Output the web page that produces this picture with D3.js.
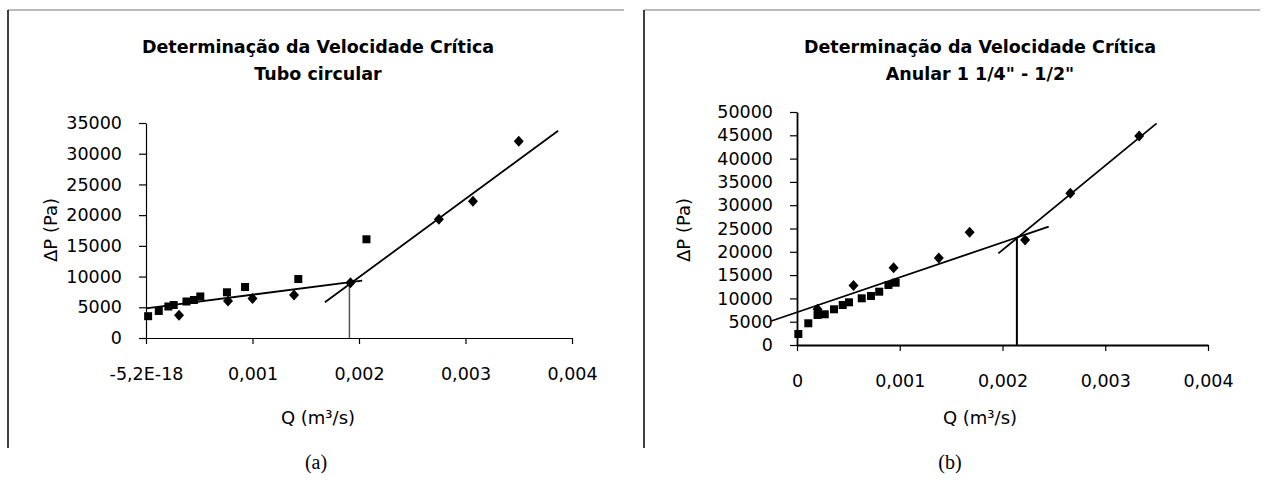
<!DOCTYPE html>
<meta charset="utf-8">
<script src="https://d3js.org/d3.v7.min.js"></script>
<head>
<style>
  body { margin: 0; background: #fff; }
  text { font-family: "DejaVu Sans", Arial, sans-serif; fill: #000; }
</style>
</head>
<body>
<div id="my_dataviz"></div>
<script>
// ---- data ----
var qTicks = [0, 0.001, 0.002, 0.003, 0.004];
var qLabelsA = ["-5,2E-18", "0,001", "0,002", "0,003", "0,004"];
var qLabelsB = ["0", "0,001", "0,002", "0,003", "0,004"];
var pTicksA = [0, 5000, 10000, 15000, 20000, 25000, 30000, 35000];
var pTicksB = [0, 5000, 10000, 15000, 20000, 25000, 30000, 35000, 40000, 45000, 50000];

// (a) tubo circular
var squaresA = [[0.00002, 3550], [0.00012, 4400], [0.00021, 5130], [0.00026, 5370], [0.00038, 5940],
                [0.00045, 6190], [0.00051, 6760], [0.00076, 7440], [0.00093, 8300], [0.00143, 9600],
                [0.00207, 16070]];
var diamondsA = [[0.00031, 3700], [0.00077, 6020], [0.00100, 6430], [0.00139, 7000], [0.00192, 9000],
                 [0.00275, 19320], [0.00307, 22250], [0.00350, 32020]];
var trendA1 = [[0, 4830], [0.00203, 9330]];
var trendA2 = [[0.00168, 5810], [0.00387, 33750]];
var criticalA = [0.00191, 9000];

// (b) anular 1 1/4" - 1/2"
var squaresB = [[0.000013, 2360], [0.00011, 4660], [0.0002, 6440], [0.00027, 6590], [0.00036, 7660],
                [0.000445, 8580], [0.000506, 9160], [0.00063, 10020], [0.00072, 10520], [0.0008, 11440],
                [0.00089, 12880], [0.00096, 13370]];
var diamondsB = [[0.0002, 7660], [0.00055, 12770], [0.00094, 16590], [0.00138, 18670], [0.00168, 24180],
                 [0.00222, 22530], [0.00266, 32550], [0.00333, 44850]];
var trendB1 = [[-0.00025, 5150], [0.00245, 25390]];
var trendB2 = [[0.00196, 19670], [0.0035, 47570]];
var criticalB = [0.00214, 23200];

var svg = d3.select("#my_dataviz")
  .append("svg")
    .attr("width", 1264)
    .attr("height", 484);

function drawChart(o) {
  var g = svg.append("g");

  // chart frame (only top and left edges show)
  g.append("line").attr("x1", o.frame[0]).attr("x2", o.frame[1]).attr("y1", 10).attr("y2", 10)
    .attr("stroke", "#777").attr("stroke-width", 1.2);
  g.append("line").attr("x1", o.frame[0]).attr("x2", o.frame[0]).attr("y1", 10).attr("y2", 448)
    .attr("stroke", "#000").attr("stroke-width", 1.5);

  var x = d3.scaleLinear().domain([0, 0.004]).range(o.xr);
  var y = d3.scaleLinear().domain([0, o.pMax]).range(o.yr);

  // title
  g.append("text").attr("x", o.titleX).attr("y", 53).attr("text-anchor", "middle")
    .style("font-size", "17.5px").style("font-weight", "bold").text("Determinação da Velocidade Crítica");
  g.append("text").attr("x", o.titleX).attr("y", 80).attr("text-anchor", "middle")
    .style("font-size", "17.5px").style("font-weight", "bold").text(o.subtitle);

  // X axis
  var xa = g.append("g")
    .attr("transform", "translate(0," + o.yr[0] + ")")
    .call(d3.axisBottom(x).tickValues(qTicks).tickSize(6).tickSizeOuter(0)
      .tickFormat(function (d, i) { return o.qLabels[i]; }));
  xa.selectAll("text").attr("y", o.xLabOff).attr("dy", "0.71em").style("font-size", "17.5px");
  xa.select(".domain").attr("stroke-width", o.xw);
  xa.selectAll(".tick line").attr("stroke-width", 1.2);

  // Y axis
  var ya = g.append("g")
    .attr("transform", "translate(" + o.xr[0] + ",0)")
    .call(d3.axisLeft(y).tickValues(o.pTicks).tickSize(7).tickSizeOuter(0).tickPadding(17)
      .tickFormat(d3.format("d")));
  ya.selectAll("text").style("font-size", "17.5px");
  ya.selectAll(".tick line").attr("stroke-width", 1.2);
  ya.select(".domain").attr("stroke-width", o.yw);

  // axis titles
  g.append("text").attr("x", o.titleX).attr("y", 424).attr("text-anchor", "middle")
    .style("font-size", "18px").text("Q (m³/s)");
  g.append("text").attr("transform", "translate(" + o.ylabX + ",230) rotate(-90)")
    .attr("text-anchor", "middle").style("font-size", "18px").text("ΔP (Pa)");

  // trend lines and critical flow
  var line = d3.line().x(function (d) { return x(d[0]); }).y(function (d) { return y(d[1]); });
  [o.t1, o.t2].forEach(function (t) {
    g.append("path").datum(t).attr("d", line).attr("fill", "none")
      .attr("stroke", "#000").attr("stroke-width", 1.8);
  });
  g.append("line").attr("x1", x(o.crit[0])).attr("x2", x(o.crit[0]))
    .attr("y1", y(0)).attr("y2", y(o.crit[1]))
    .attr("stroke", o.critColor).attr("stroke-width", o.critW);

  // markers
  g.append("g").selectAll("rect").data(o.squares).enter().append("rect")
    .attr("x", function (d) { return x(d[0]) - 4; })
    .attr("y", function (d) { return y(d[1]) - 4; })
    .attr("width", 8).attr("height", 8).attr("fill", "#000");
  g.append("g").selectAll("path.dia").data(o.diamonds).enter().append("path")
    .attr("transform", function (d) { return "translate(" + x(d[0]) + "," + y(d[1]) + ")"; })
    .attr("d", "M0,-5.5L5,0L0,5.5L-5,0Z").attr("fill", "#000");

  // panel caption
  svg.append("text").attr("x", o.capX).attr("y", 469).attr("text-anchor", "middle")
    .style("font-family", "'Liberation Serif', 'Times New Roman', serif").style("font-size", "20px")
    .text(o.caption);
}

drawChart({
  frame: [8, 624], xr: [146, 572], yr: [338, 123], pMax: 35000, pTicks: pTicksA,
  qLabels: qLabelsA, xLabOff: 30, xw: 1.2, yw: 1.2, titleX: 318, subtitle: "Tubo circular",
  ylabX: 57, t1: trendA1, t2: trendA2, crit: criticalA, critColor: "#555", critW: 1.5,
  squares: squaresA, diamonds: diamondsA, capX: 316, caption: "(a)"
});

drawChart({
  frame: [644, 1260], xr: [797, 1208], yr: [345, 112], pMax: 50000, pTicks: pTicksB,
  qLabels: qLabelsB, xLabOff: 30, xw: 2.2, yw: 1.8, titleX: 980, subtitle: "Anular 1 1/4\" - 1/2\"",
  ylabX: 690, t1: trendB1, t2: trendB2, crit: criticalB, critColor: "#000", critW: 2,
  squares: squaresB, diamonds: diamondsB, capX: 950, caption: "(b)"
});
</script>
</body>
